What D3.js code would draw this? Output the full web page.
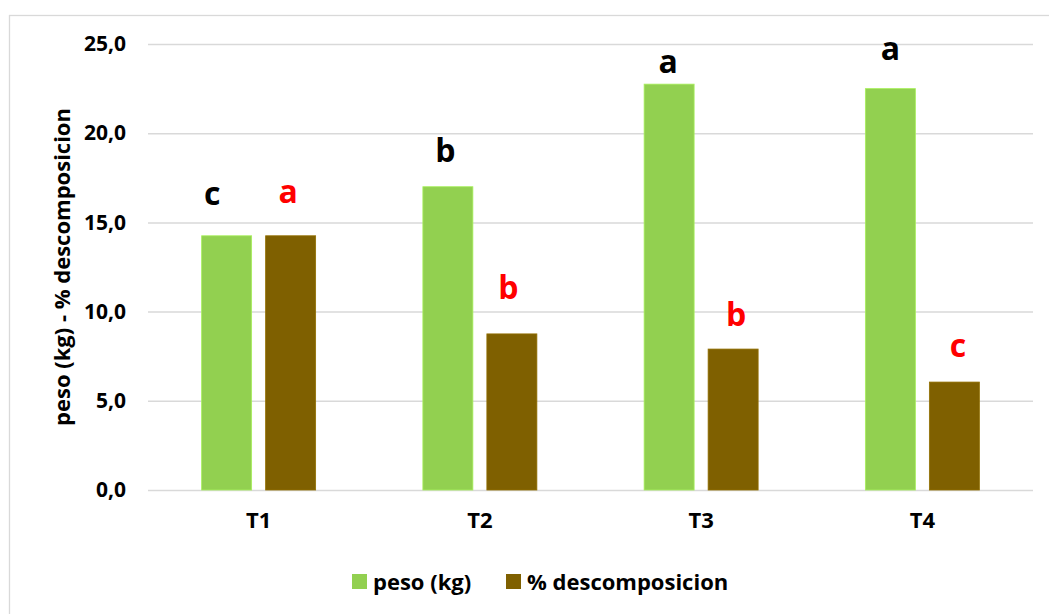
<!DOCTYPE html>
<html>
<head>
<meta charset="utf-8">
<script src="https://cdn.jsdelivr.net/npm/d3@7"></script>
<style>
  html, body { margin: 0; padding: 0; background: #fff; }
  svg { display: block; font-family: "Open Sans", "Noto Sans", sans-serif; }
</style>
</head>
<body>
<svg id="chart" width="1049" height="614"></svg>
<script>
// Treatments and the two measured series
const categories = ["T1", "T2", "T3", "T4"];
const seriesNames = ["peso (kg)", "% descomposicion"];
const peso = [14.25, 17.0, 22.75, 22.5];
const descomposicion = [14.25, 8.75, 7.9, 6.05];
// Significance letters for each bar
const pesoLetters = ["c", "b", "a", "a"];
const descLetters = ["a", "b", "b", "c"];
const yTicks = [0, 5, 10, 15, 20, 25];

const colors = { "peso (kg)": "#92D050", "% descomposicion": "#7F6000" };
const letterColors = { "peso (kg)": "#000000", "% descomposicion": "#FF0000" };

const svg = d3.select("#chart");
const W = 1049, H = 614;
const plot = { left: 148, right: 1033, top: 44, bottom: 490 };

// Outer chart frame
svg.append("rect")
  .attr("x", 9.5).attr("y", 15.5)
  .attr("width", W + 20).attr("height", H + 20)
  .attr("fill", "#fff").attr("stroke", "#d9d9d9").attr("stroke-width", 1.3);

const x = d3.scaleBand().domain(categories).range([plot.left, plot.right]).padding(0);
const inner = d3.scaleBand().domain(seriesNames).range([-57, 57]).paddingInner(14 / 64).paddingOuter(0);
const y = d3.scaleLinear().domain([0, 25]).range([plot.bottom, plot.top]);

// Gridlines and y tick labels via a d3 axis
const yAxis = d3.axisLeft(y).tickValues(yTicks)
  .tickSize(-(plot.right - plot.left))
  .tickPadding(22)
  .tickFormat(d => d3.format(".1f")(d).replace(".", ","));

const gy = svg.append("g").attr("transform", `translate(${plot.left},0)`).call(yAxis);
gy.select(".domain").remove();
gy.selectAll(".tick line").attr("stroke", "#d9d9d9").attr("stroke-width", 1.5);
gy.selectAll(".tick text")
  .attr("fill", "#000").attr("font-size", 21).attr("font-weight", 700)
  .attr("font-family", "'Open Sans', sans-serif");

// Category labels
const gx = svg.append("g").attr("transform", `translate(0,${plot.bottom})`)
  .call(d3.axisBottom(x).tickSize(0).tickPadding(22));
gx.select(".domain").remove();
gx.selectAll(".tick text")
  .attr("fill", "#000").attr("font-size", 22).attr("font-weight", 700)
  .attr("font-family", "'Open Sans', sans-serif");

// Build rows from the arrays
const rows = [];
categories.forEach((c, i) => {
  rows.push({ cat: c, series: seriesNames[0], value: peso[i], letter: pesoLetters[i], idx: i });
  rows.push({ cat: c, series: seriesNames[1], value: descomposicion[i], letter: descLetters[i], idx: i });
});

const barX = d => x(d.cat) + x.bandwidth() / 2 + inner(d.series);

svg.append("g").selectAll("rect")
  .data(rows).join("rect")
  .attr("x", barX)
  .attr("y", d => y(d.value))
  .attr("width", inner.bandwidth())
  .attr("height", d => y(0) - y(d.value))
  .attr("fill", d => colors[d.series])
  .attr("stroke", d => d3.color(colors[d.series]).brighter(0.4))
  .attr("stroke-width", 0.8);

// Letter placement nudges (dx, gap above the bar top) in pixels
const letterNudge = {
  "peso (kg)": [[-14.5, 31], [-2.5, 25], [-1, 11], [0, 29]],
  "% descomposicion": [[-2.5, 33], [-3.5, 35], [3, 23], [3.5, 25]]
};

svg.append("g").selectAll("text")
  .data(rows).join("text")
  .attr("x", d => barX(d) + inner.bandwidth() / 2 + letterNudge[d.series][d.idx][0])
  .attr("y", d => y(d.value) - letterNudge[d.series][d.idx][1])
  .attr("text-anchor", "middle")
  .attr("font-size", 32).attr("font-weight", 700)
  .attr("fill", d => letterColors[d.series])
  .text(d => d.letter);

// Y axis title
svg.append("text")
  .attr("transform", `translate(70,${(plot.top + plot.bottom) / 2}) rotate(-90)`)
  .attr("text-anchor", "middle")
  .attr("font-size", 22).attr("font-weight", 700).attr("fill", "#000")
  .text("peso (kg) - % descomposicion");

// Legend
const legendItems = [
  { name: seriesNames[0], x: 352 },
  { name: seriesNames[1], x: 506 }
];
const lg = svg.append("g").selectAll("g").data(legendItems).join("g")
  .attr("transform", d => `translate(${d.x},574)`);
lg.append("rect").attr("width", 15).attr("height", 15).attr("fill", d => colors[d.name]);
lg.append("text").attr("x", 21).attr("y", 15.5)
  .attr("font-size", 22).attr("font-weight", 700).attr("fill", "#000")
  .text(d => d.name);
</script>
</body>
</html>
